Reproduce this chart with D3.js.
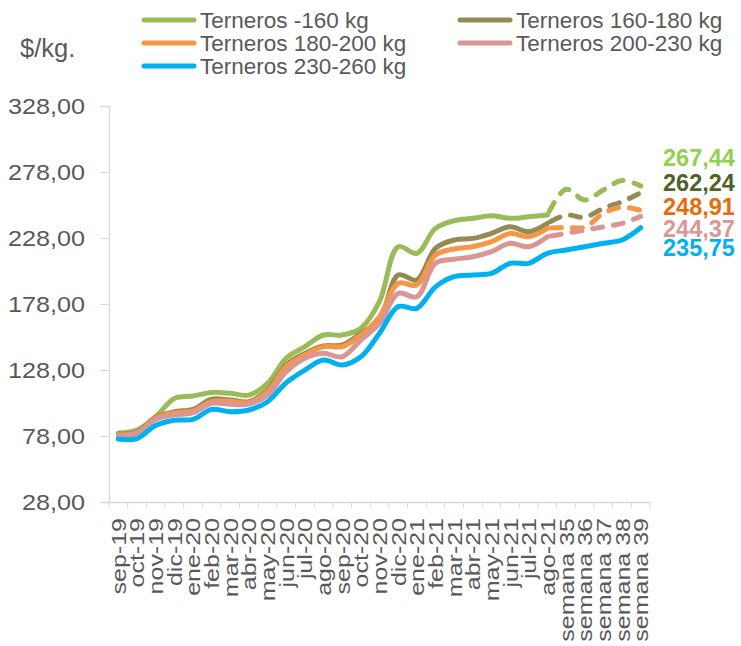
<!DOCTYPE html>
<html><head><meta charset="utf-8">
<script src="https://cdn.jsdelivr.net/npm/d3@7/dist/d3.min.js"></script>
<style>body{margin:0;background:#fff}svg{display:block}text{font-family:"Liberation Sans",Arial,sans-serif}</style>
</head><body><svg id="c" width="741" height="646"></svg>
<script>
const categories = ["sep-19","oct-19","nov-19","dic-19","ene-20","feb-20","mar-20","abr-20","may-20","jun-20","jul-20","ago-20","sep-20","oct-20","nov-20","dic-20","ene-21","feb-21","mar-21","abr-21","may-21","jun-21","jul-21","ago-21","semana 35","semana 36","semana 37","semana 38","semana 39"];
const seriesNames = ["Terneros -160 kg","Terneros 160-180 kg","Terneros 180-200 kg","Terneros 200-230 kg","Terneros 230-260 kg"];
const green  = [80.3,82.5,92.6,106.5,108.3,111,110.3,109,117.9,137,145.7,154.5,154.5,159.6,180,221.4,216.4,235.3,241.1,242.9,244.9,242.9,244.1,245.4,264.9,256.8,264.4,271.5,267.44];
const brown  = [79.5,81,92,96.4,98.2,105.8,105.3,104,112.8,131.8,140.6,146.2,147,155.8,166,200,196.2,220.2,226.5,227.7,231.5,236.5,232.8,239.1,245.4,243.7,250.5,255.5,262.24];
const orange = [79,80.5,91.5,95.5,97,104,104.3,103.2,111.5,130.5,139.4,145.7,145.7,154.5,168.4,193.7,192.4,215.1,219.7,221.4,225.2,231.5,229,235.3,236.1,236.1,246.7,251.3,248.91];
const pink   = [78.5,80,90.5,94,95.5,102.8,102,102.2,109,126.7,136.9,140.6,138,150.7,163.4,186,183.5,208.8,211.9,213.8,217.6,224,221.4,229,231.5,234,236.5,239.1,244.37];
const blue   = [75.7,76,86,90,90.6,98.2,96.4,97.7,104,118.4,128,135.6,131.8,138,155.8,176,174.7,191,198.7,200,201.2,208.8,208.8,216.4,218.9,221.4,224,226.5,235.75];
const yTicks = [28,78,128,178,228,278,328];
const lastLabels = ["267,44","262,24","248,91","244,37","235,75"];

const lineColors = ["#9BBB59","#948A54","#F79646","#D99694","#00B0F0"];
const labelColors = ["#92D050","#4F6228","#E46C0A","#D99694","#00B0F0"];
const dashedFrom = [23,23,23,23,null];
const allSeries = [green,brown,orange,pink,blue];

const svg = d3.select("#c");
const x = d3.scaleBand().domain(categories).range([109,650]).padding(0);
const y = d3.scaleLinear().domain([28,328]).range([502,106]);
const cx = c => x(c) + x.bandwidth()/2;
const grey = "#D9D9D9", txt = "#595959";

// y axis
const ya = svg.append("g").attr("transform","translate(109,0)")
  .call(d3.axisLeft(y).tickValues(yTicks).tickSize(9).tickPadding(0).tickFormat(d => d3.format(".2f")(d).replace(".",",")));
ya.select(".domain").attr("stroke",grey).attr("stroke-width",1.3);
ya.selectAll(".tick line").attr("stroke",grey);
ya.selectAll(".tick text").attr("fill",txt).style("font-size","22.5px")
  .attr("x",0).attr("transform","translate(-24,0) scale(1.12,1)");

// x axis
const xa = svg.append("g").attr("transform","translate(0,502)")
  .call(d3.axisBottom(x).tickSize(0).tickPadding(0));
xa.select(".domain").attr("stroke",grey).attr("stroke-width",1.3);
xa.selectAll(".tick text").attr("fill",txt).style("font-size","21px")
  .attr("transform","translate(7.5,16) rotate(-90) scale(1.19,1)").attr("text-anchor","end").attr("dy",0).attr("x",0).attr("y",0);
svg.append("g").selectAll("line").data(categories.concat([null])).join("line")
  .attr("x1",(d,i)=> i<categories.length ? x(d) : x.range()[1])
  .attr("x2",(d,i)=> i<categories.length ? x(d) : x.range()[1])
  .attr("y1",502).attr("y2",508).attr("stroke",grey);

// lines
const line = d3.line().x(d=>cx(d.c)).y(d=>y(d.v)).curve(d3.curveCatmullRom.alpha(0.5));
allSeries.forEach((vals,si)=>{
  const pts = vals.map((v,i)=>({c:categories[i],v,i}));
  const df = dashedFrom[si];
  const solid = df==null ? pts : pts.slice(0,df+1);
  svg.append("path").attr("d",line(solid)).attr("fill","none").attr("stroke",lineColors[si])
    .attr("stroke-width",5).attr("stroke-linecap","round").attr("stroke-linejoin","round");
  if(df!=null){
    svg.append("path").attr("d",line(pts.slice(df))).attr("fill","none").attr("stroke",lineColors[si])
      .attr("stroke-width",5).attr("stroke-linecap","round").attr("stroke-dasharray","10,11").attr("stroke-dashoffset",-4);
  }
});

// end labels
const labelY = [166,191,215,237,255.5];
lastLabels.forEach((t,i)=>{
  svg.append("text").attr("x",663).attr("y",labelY[i]).text(t)
    .attr("fill",labelColors[i]).style("font-size","23.5px").style("font-weight","bold");
});

// unit
svg.append("text").attr("x",20).attr("y",57).text("$/kg.").attr("fill",txt).style("font-size","25.5px");

// legend
const legPos = [[142,20],[458,20],[142,43],[458,43],[142,66]];
seriesNames.forEach((n,i)=>{
  const [lx,ly] = legPos[i];
  svg.append("line").attr("x1",lx+2).attr("x2",lx+52).attr("y1",ly).attr("y2",ly)
    .attr("stroke",lineColors[i]).attr("stroke-width",5).attr("stroke-linecap","round");
  svg.append("text").attr("x",lx+58).attr("y",ly+8).text(n).attr("fill",txt).style("font-size","22.5px");
});
</script></body></html>
